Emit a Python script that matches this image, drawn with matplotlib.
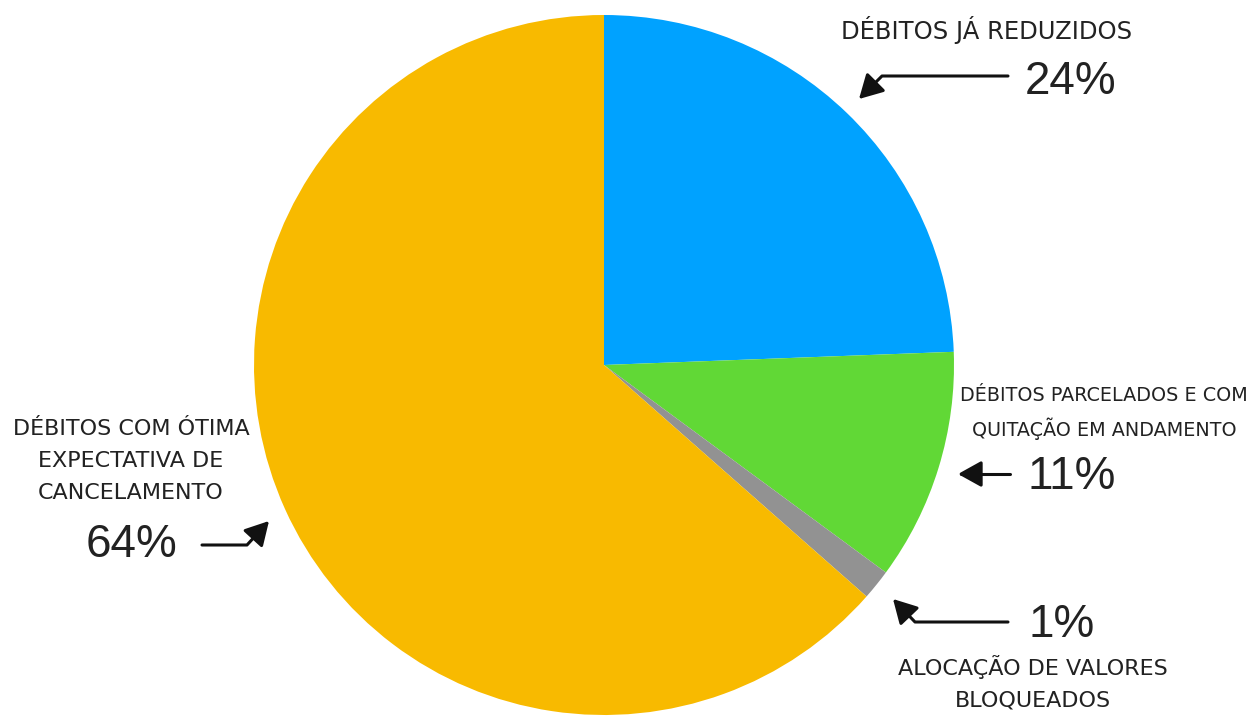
import matplotlib
matplotlib.use("Agg")
import matplotlib.pyplot as plt
from matplotlib.patches import FancyArrowPatch
from matplotlib.path import Path

categories = ["DÉBITOS JÁ REDUZIDOS",
              "DÉBITOS PARCELADOS E COM\nQUITAÇÃO EM ANDAMENTO",
              "ALOCAÇÃO DE VALORES\nBLOQUEADOS",
              "DÉBITOS COM ÓTIMA\nEXPECTATIVA DE\nCANCELAMENTO"]
values = [24.4, 10.7, 1.4, 63.5]
pct_labels = ["24%", "11%", "1%", "64%"]
colors = ["#00A2FF", "#61D836", "#929292", "#F8BA00"]

label_font = "DejaVu Sans"

W, H = 1254, 717
fig = plt.figure(figsize=(W / 100, H / 100), dpi=100)
ax = fig.add_axes([0, 0, 1, 1])


def Y(y):
    return H - y


ax.pie(values, colors=colors, startangle=90, counterclock=False,
       center=(604, Y(365)), radius=350, frame=True,
       wedgeprops=dict(linewidth=0))
ax.set_xlim(0, W)
ax.set_ylim(0, H)
ax.set_aspect("equal")
ax.axis("off")

tc = "#222222"
lab_kw = dict(family=label_font, color=tc, ha="center", va="center",
              linespacing=1.72)
pct_kw = dict(family="Liberation Sans", fontsize=33, color=tc,
              ha="center", va="center")

ax.text(987, Y(30), categories[0], fontsize=17.5, **lab_kw)
ax.text(1071, Y(82), pct_labels[0], **pct_kw)
ax.text(1104, Y(413), categories[1], fontsize=13.8, **lab_kw)
ax.text(1072, Y(477), pct_labels[1], **pct_kw)
ax.text(1033, Y(683), categories[2], fontsize=16, **lab_kw)
ax.text(1062, Y(625), pct_labels[2], **pct_kw)
ax.text(131, Y(461), categories[3], fontsize=16, **lab_kw)
ax.text(132, Y(545), pct_labels[3], **pct_kw)


def arrow(pts):
    p = Path([(x, Y(y)) for x, y in pts])
    a = FancyArrowPatch(path=p, arrowstyle="-|>,head_length=9,head_width=5",
                        color="#111111", linewidth=2.2, mutation_scale=1.6)
    ax.add_patch(a)


arrow([(1008, 76), (882, 76), (859, 99)])
arrow([(1010, 474), (958, 474)])
arrow([(1008, 622), (915, 622), (893, 599)])
arrow([(202, 545), (247, 545), (269, 521)])

fig.savefig("out.png", dpi=100)
